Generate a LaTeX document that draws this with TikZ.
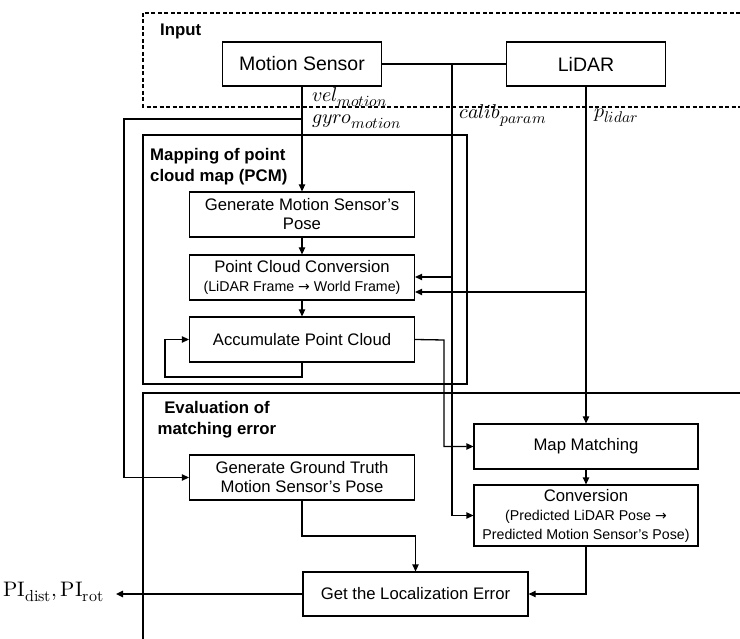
\documentclass[tikz,border=0pt]{standalone}
\usepackage{fontspec}
\usepackage{unicode-math}
\setmainfont{Liberation Sans}
\setmathfont{Latin Modern Math}
\newfontfamily\arrowfont{DejaVu Sans}
\usetikzlibrary{arrows.meta,calc}

% larger subscripts for the signal labels
\DeclareMathSizes{20}{20}{15.5}{12}
\DeclareMathSizes{21}{21}{16}{12}

\newcommand{\smalltext}{\fontsize{14.2}{17}\selectfont}
\newcommand{\rarrow}{{\arrowfont\fontsize{14}{17}\selectfont →}}

\tikzset{
  box/.style={draw, line width=1.3pt, fill=white, align=center, inner sep=0pt,
    minimum width=225pt, minimum height=45pt, font=\fontsize{16.7}{19}\selectfont},
  srcbox/.style={box, minimum width=159pt, minimum height=44pt, font=\fontsize{19.5}{22}\selectfont},
  flow/.style={line width=1.3pt},
  arr/.style={flow, -{Triangle[length=7pt,width=6.5pt]}},
  frame/.style={line width=2.2pt},
  ttl/.style={font=\bfseries\fontsize{16.8}{21}\selectfont, inner sep=0pt},
  sig/.style={font=\fontsize{20}{22}\selectfont, inner sep=0pt, anchor=west},
}

\begin{document}
\begin{tikzpicture}[x=1pt,y=-1pt]
\clip (0,0) rectangle (740,639);

% group frames
\draw[line width=1.2pt, dash pattern=on 4pt off 2.5pt] (143,13) rectangle (770,107);
\draw[frame] (143,135) rectangle (467,384);
\draw[frame] (143,393) rectangle (770,680);

\node[ttl, anchor=west] (tin) at (160,31) {Input};
\node[ttl, anchor=west, align=left] (tpcm) at (150,167) {Mapping of point\\cloud map (PCM)};
\node[ttl, align=center] (teval) at (217,420) {Evaluation of\\matching error};

% sources
\node[srcbox] (ms) at (302,64) {Motion Sensor};
\node[srcbox] (lidar) at (586,64) {LiDAR};

% PCM stage
\node[box] (gmsp) at (302,214.5) {Generate Motion Sensor’s\\Pose};
\node[box] (pcc) at (302,277.5) {Point Cloud Conversion\\{\smalltext (LiDAR Frame \rarrow{} World Frame)}};
\node[box] (acc) at (302,339.5) {Accumulate Point Cloud};

% evaluation stage
\node[box, minimum width=224pt] (mm) at (586,446.5) {Map Matching};
\node[box, minimum width=224pt, minimum height=61pt] (conv) at (586,515.5)
  {Conversion\\{\smalltext (Predicted LiDAR Pose \rarrow}\\{\smalltext Predicted Motion Sensor’s Pose)}};
\node[box] (gt) at (302,477.5) {Generate Ground Truth\\Motion Sensor’s Pose};
\node[box, minimum height=44pt] (get) at (415.5,594) {Get the Localization Error};

% signal labels
\node[sig] (lvel) at (312,97) {$vel_{motion}$};
\node[sig] (lgyro) at (312,122) {$gyro_{motion}$};
\node[sig] (lcal) at (459,116) {$calib_{param}$};
\node[sig] (lpl) at (594,116) {$p_{lidar}$};
\node[font=\fontsize{21}{23}\selectfont, inner sep=0pt, anchor=east] (pi) at (104,592)
  {$\symup{PI}_{\symup{dist}}, \symup{PI}_{\symup{rot}}$};

% junction points
\coordinate (cal) at (452,64);
\coordinate (j1) at (452,277);
\coordinate (j2) at (586,292);
\coordinate (g1) at (302,119);
\coordinate (gl) at (124,119);
\coordinate (lp) at (165,377);
\coordinate (am) at (444,340);
\coordinate (gg) at (302,536);
\coordinate (piend) at (116,594);

% connectors
\draw[flow] (ms.east) -- (lidar.west);
\draw[arr] (cal) |- (conv.west);
\draw[arr] (j1) -- (j1 -| pcc.east);
\draw[arr] (j2) -- (j2 -| pcc.east);
\draw[arr] (lidar.south) -- (mm.north);
\draw[arr] (ms.south) -- (gmsp.north);
\draw[arr] (g1) -- (gl) |- (gt.west);
\draw[arr] (gmsp) -- (pcc);
\draw[arr] (pcc) -- (acc);
\draw[arr] (acc.south) |- (lp) |- (acc.west);
\draw[arr] (acc.east) -- (am) |- (mm.west);
\draw[arr] (mm) -- (conv);
\draw[arr] (conv.south) |- (get.east);
\draw[arr] (gt.south) -- (gg) -| (get.north);
\draw[arr] (get.west) -- (piend);
\end{tikzpicture}
\end{document}
